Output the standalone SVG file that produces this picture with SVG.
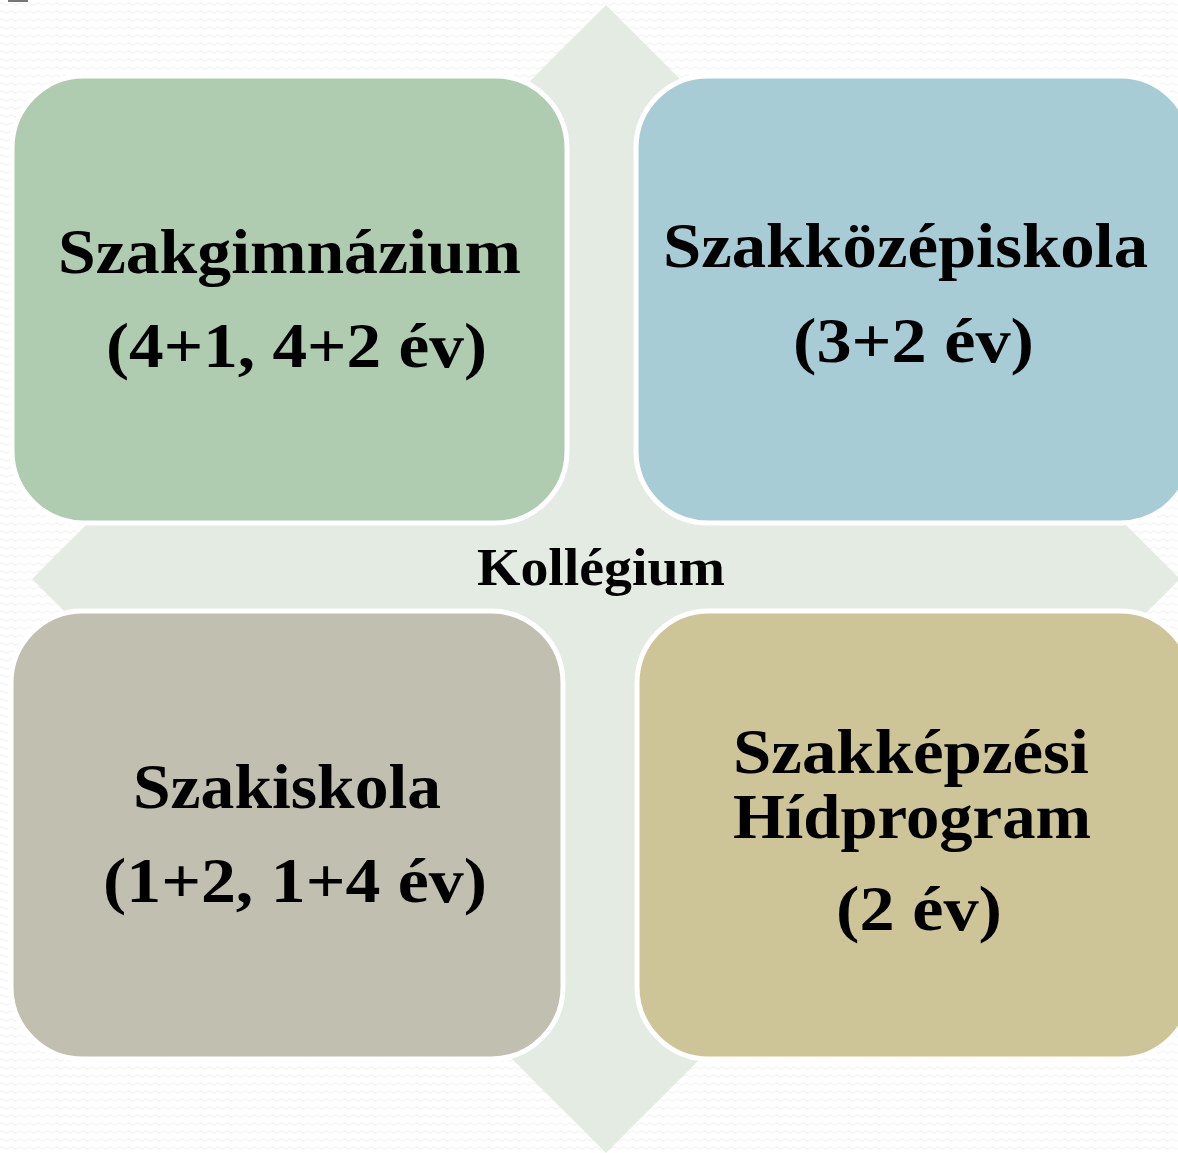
<svg xmlns="http://www.w3.org/2000/svg" width="1178" height="1153" viewBox="0 0 1178 1153">
  <defs>
    <pattern id="bgwave" width="9" height="8" patternUnits="userSpaceOnUse">
      <path d="M0,4 Q2.25,1.5 4.5,4 T9,4" fill="none" stroke="#eeeeee" stroke-width="1"/>
    </pattern>
  </defs>
  <style>
    .box { stroke: #ffffff; stroke-width: 5; }
    .lbl { font-family: "Liberation Serif", "Times New Roman", serif; font-weight: bold; font-size: 64px; fill: #000000; }
    .center { font-family: "Liberation Serif", "Times New Roman", serif; font-weight: bold; font-size: 53px; fill: #000000; }
  </style>
  <rect x="0" y="0" width="1178" height="1153" fill="#ffffff"/>
  <rect x="0" y="0" width="1178" height="1153" fill="url(#bgwave)"/>
  <rect x="8" y="0" width="20" height="2" fill="#777777"/>

  <g id="kollegium">
    <polygon fill="#e3ebe2" points="606,5 736,135 696,135 696,489 1050,489 1050,449 1180,579 1050,709 1050,669 696,669 696,1023 736,1023 606,1153 476,1023 516,1023 516,669 162,669 162,709 32,579 162,449 162,489 516,489 516,135 476,135"/>
    <text class="center" x="477" y="585" textLength="248" lengthAdjust="spacingAndGlyphs">Kollégium</text>
  </g>

  <g id="szakgimnazium">
    <rect class="box" x="12" y="76" width="555" height="447" rx="72" ry="72" fill="#afcbb0"/>
    <text class="lbl" x="58" y="273" textLength="463" lengthAdjust="spacingAndGlyphs">Szakgimnázium</text>
    <text class="lbl" x="106" y="367" textLength="381" lengthAdjust="spacingAndGlyphs">(4+1, 4+2 év)</text>
  </g>

  <g id="szakkozepiskola">
    <rect class="box" x="636" y="76" width="556" height="447" rx="72" ry="72" fill="#a8ccd6"/>
    <text class="lbl" x="663" y="267" textLength="485" lengthAdjust="spacingAndGlyphs">Szakközépiskola</text>
    <text class="lbl" x="793" y="362" textLength="241" lengthAdjust="spacingAndGlyphs">(3+2 év)</text>
  </g>

  <g id="szakiskola">
    <rect class="box" x="11" y="611" width="552" height="448" rx="72" ry="72" fill="#c0bfb0"/>
    <text class="lbl" x="133" y="808" textLength="308" lengthAdjust="spacingAndGlyphs">Szakiskola</text>
    <text class="lbl" x="103" y="902" textLength="384" lengthAdjust="spacingAndGlyphs">(1+2, 1+4 év)</text>
  </g>

  <g id="hidprogram">
    <rect class="box" x="637" y="611" width="555" height="448" rx="72" ry="72" fill="#cdc598"/>
    <text class="lbl" x="733" y="773" textLength="356" lengthAdjust="spacingAndGlyphs">Szakképzési</text>
    <text class="lbl" x="733" y="838" textLength="358" lengthAdjust="spacingAndGlyphs">Hídprogram</text>
    <text class="lbl" x="836" y="930" textLength="166" lengthAdjust="spacingAndGlyphs">(2 év)</text>
  </g>
</svg>
